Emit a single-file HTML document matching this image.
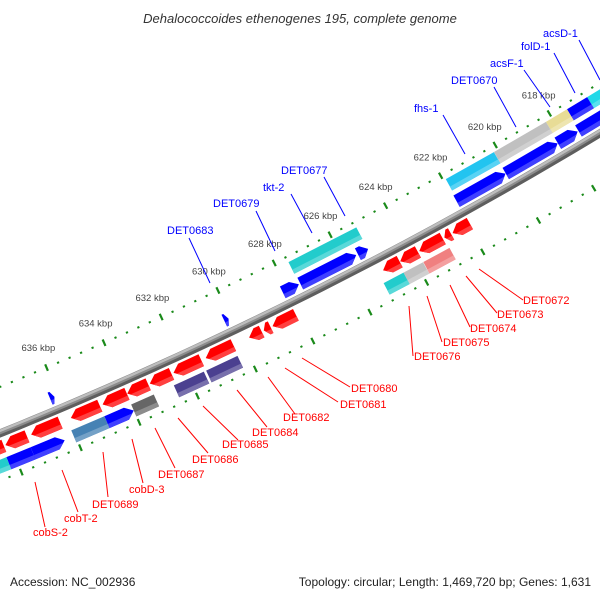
<!DOCTYPE html>
<html><head><meta charset="utf-8"><style>
html,body{margin:0;padding:0;background:#fff;}
svg{display:block;font-family:"Liberation Sans",sans-serif;}
</style></head>
<body>
<svg id="map" width="600" height="600" viewBox="0 0 600 600" xmlns="http://www.w3.org/2000/svg">
<rect width="600" height="600" fill="#fff"/>
<text x="300" y="23" text-anchor="middle" font-size="13" font-style="italic" fill="#333">Dehalococcoides ethenogenes 195, complete genome</text>
<g id="layer"></g>
<text x="10" y="586" font-size="12" fill="#222">Accession: NC_002936</text>
<text x="591" y="586" text-anchor="end" font-size="12" fill="#222">Topology: circular; Length: 1,469,720 bp; Genes: 1,631</text>
</svg>
<script>
// ---- data (bp) ----
const innerArrowStarts = [616000,617520,618260,620170,625135,625560,627600];
const innerArrowEnds   = [617490,618250,620160,621950,625500,627550,628170];
const markerStarts = [630080,636130];
const markerEnds   = [630230,636280];
const innerBlockStarts = [615500,616699,617448,618230,620150,625150];
const innerBlockEnds   = [616699,617448,618230,620146,621910,627580];
const innerBlockColors = ['#22d8e8','#0000ff','#e8dc96','#c0c0c0','#22c4f0','#22cccc'];
const redStarts = [621925,622600,622900,623790,624440,628114,629000,629314,630303,631420,632452,633257,633990,634924,636281,637412,638200];
const redEnds   = [622546,622840,623740,624420,625030,628933,629240,629753,631264,632381,633201,633978,634826,635914,637270,638146,639000];
const outerBlockStarts = [622856,623800,624496,630331,631500,633227,634005,634924,636364,637438,638258];
const outerBlockEnds   = [623789,624496,625201,631419,632536,634005,634924,636054,637438,638258,639500];
const outerBlockColors = ['#f08080','#c0c0c0','#22cccc','#4b4090','#4b4090','#666666','#0000ff','#4682b4','#0000ff','#0000ff','#22cccc'];
const outerBlockHeads  = [0,0,0,0,0,0,1,0,1,0,0];
const tickLabelsKbp = [618,620,622,624,626,628,630,632,634,636];
const blueLabels = ['DET0683','DET0679','tkt-2','DET0677','fhs-1','DET0670','acsF-1','folD-1','acsD-1'];
const redLabels = ['DET0672','DET0673','DET0674','DET0675','DET0676','DET0680','DET0681','DET0682','DET0684','DET0685','DET0686','DET0687','cobD-3','DET0689','cobT-2','cobS-2'];
// label layout (annotation placement, pixels): [textX, baselineY, lineX1, lineY1, lineX2, lineY2]
const blueLayout = [[167,234,189,238,210,283],[213,207,256,211,275,251],[263,191,291,194,312,233],[281,174,324,177,345,216],[414,112,443,115,465,154],[451,84,494,87,516,127],[490,67,524,70,550,107],[521,50,554,53,575,93],[543,37,579,40,600,80]];
const redLayout = [[523,304,479,269,523,300],[497,318,466,276,497,313],[470,332,450,285,470,327],[443,346,427,296,442,342],[414,360,409,306,413,356],[351,392,302,358,350,387],[340,408,285,368,338,402],[283,421,268,377,295,414],[252,436,237,390,267,427],[222,448,203,406,238,440],[192,463,178,418,208,453],[158,478,155,428,175,468],[129,493,132,439,143,483],[92,508,103,452,108,497],[64,522,62,470,78,512],[33,536,35,482,45,527]];

// ---- geometry ----
const CX=-1573, CY=-3461, R0=4200, BP0=627775, DEG_PER_BP=0.0004317, TH0=63.52;
function pt(bp,d){const t=(TH0+(bp-BP0)*DEG_PER_BP)*Math.PI/180;const r=R0+d;return [CX+r*Math.cos(t),CY+r*Math.sin(t)];}
const NS='http://www.w3.org/2000/svg';
const layer=document.getElementById('layer');
function mk(tag,attrs){const e=document.createElementNS(NS,tag);for(const k in attrs)e.setAttribute(k,attrs[k]);return e;}
function poly(list){return list.map(p=>pt(p[0],p[1]).map(v=>v.toFixed(2)).join(',')).join(' ');}
function lighten(c,f){const n=parseInt(c.slice(1),16);let r=n>>16,g=(n>>8)&255,b=n&255;r=Math.round(r+(255-r)*f);g=Math.round(g+(255-g)*f);b=Math.round(b+(255-b)*f);return 'rgb('+r+','+g+','+b+')';}
const HEAD=250;
function shape(b1,b2,d1,d2,head,sd1){
  const dc=(d1+d2)/2, h=Math.min(HEAD,(b2-b1)*0.6);
  const lo=sd1===undefined?d1:sd1;
  function headB(tip,start,d){return tip+(start-tip)*Math.abs(d-dc)/((d2-d1)/2);}
  let p=[];
  if(head===1){const s=b1+h;
    if(lo<=dc){p=[[b2,lo],[headB(b1,s,lo),lo],[b1,dc],[s,d2],[b2,d2]];}
    else{p=[[b2,lo],[headB(b1,s,lo),lo],[s,d2],[b2,d2]];}
  }else if(head===-1){const s=b2-h;
    if(lo<=dc){p=[[b1,lo],[headB(b2,s,lo),lo],[b2,dc],[s,d2],[b1,d2]];}
    else{p=[[b1,lo],[headB(b2,s,lo),lo],[s,d2],[b1,d2]];}
  }else{p=[[b1,lo],[b2,lo],[b2,d2],[b1,d2]];}
  return poly(p);
}
function feature(b1,b2,d1,d2,head,color,name){
  const g=mk('g',{});
  
  
  const base=mk('polygon',{points:shape(b1,b2,d1,d2,head),fill:color});
  
  
  g.appendChild(base);
  const strip=mk('polygon',{points:shape(b1,b2,d1,d2,head,d2-(d2-d1)*0.35),fill:lighten(color,0.25)});
  
  
  g.appendChild(strip);
  layer.appendChild(g);
}
function arcPath(d){const pts=[];for(let b=606000;b<=650000;b+=500)pts.push(pt(b,d));return 'M'+pts.map(p=>p[0].toFixed(2)+','+p[1].toFixed(2)).join(' L');}
(function(){
  const bb=mk('path',{d:arcPath(0),fill:'none',stroke:'#8c8c8c','stroke-width':8});
  
  
  layer.appendChild(bb);
  const sh=mk('path',{d:arcPath(2.5),fill:'none',stroke:'#5e5e5e','stroke-width':3});
  
  
  layer.appendChild(sh);
  const hl=mk('path',{d:arcPath(-2.3),fill:'none',stroke:'#bdbdbd','stroke-width':2.4});
  
  
  layer.appendChild(hl);
})();
[-43,44].forEach(function(ring,ri){
  for(let b=606000;b<=650000;b+=400){
    const major=(b%2000===0);
    const a=pt(b,ring-(major?3.5:1)), c=pt(b,ring+(major?3.5:1));
    const ln=mk('line',{x1:a[0],y1:a[1],x2:c[0],y2:c[1],stroke:'#1a8a1a','stroke-width':2.2});
    
    
    layer.appendChild(ln);
  }
});
tickLabelsKbp.forEach(function(k){
  const p=pt(k*1000,-64);
  const t=mk('text',{x:p[0].toFixed(1),y:(p[1]+3).toFixed(1),'text-anchor':'middle','font-size':'9.5',fill:'#444'});
  t.textContent=k+' kbp';
  
  
  layer.appendChild(t);
});
for(let i=0;i<innerBlockStarts.length;i++)feature(innerBlockStarts[i],innerBlockEnds[i],-37.5,-24.5,0,innerBlockColors[i],'inner-block-'+i);
for(let i=0;i<innerArrowStarts.length;i++)feature(innerArrowStarts[i],innerArrowEnds[i],-19.5,-6.5,1,'#0000ff','forward-gene-'+i);
for(let i=0;i<markerStarts.length;i++)feature(markerStarts[i],markerEnds[i],-19.5,-6.5,1,'#0000ff','forward-marker-'+i);
for(let i=0;i<redStarts.length;i++)feature(redStarts[i],redEnds[i],6.5,19.5,-1,'#ff0000','reverse-gene-'+i);
for(let i=0;i<outerBlockStarts.length;i++)feature(outerBlockStarts[i],outerBlockEnds[i],24.5,37.5,outerBlockHeads[i],outerBlockColors[i],'outer-block-'+i);
function addLabel(txt,L,color,prefix){
  const ln=mk('line',{x1:L[2],y1:L[3],x2:L[4],y2:L[5],stroke:color,'stroke-width':1});
  
  
  layer.appendChild(ln);
  const t=mk('text',{x:L[0],y:L[1],'font-size':'11',fill:color});
  t.textContent=txt;
  
  
  layer.appendChild(t);
}
blueLabels.forEach((s,i)=>addLabel(s,blueLayout[i],'#0000ff','forward'));
redLabels.forEach((s,i)=>addLabel(s,redLayout[i],'#ff0000','reverse'));
</script>
</body></html>
